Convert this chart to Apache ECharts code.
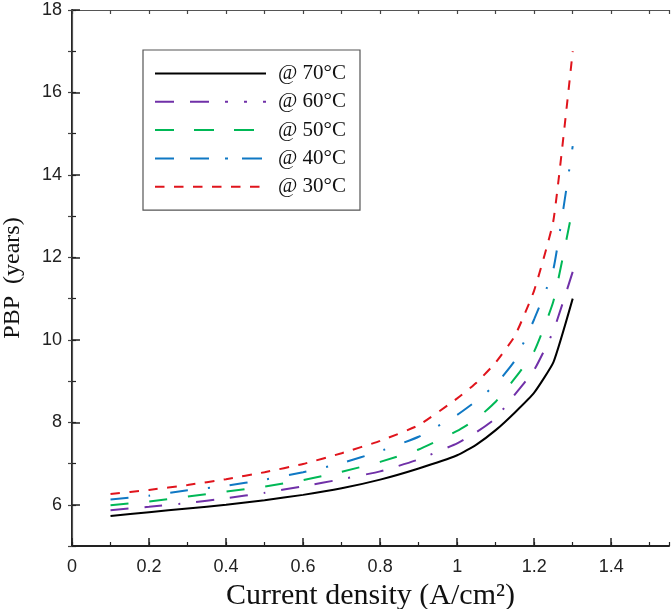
<!DOCTYPE html>
<html><head><meta charset="utf-8">
<script src="https://cdn.jsdelivr.net/npm/echarts@6/dist/echarts.min.js"></script>
<style>html,body{margin:0;padding:0;background:#fff}#c{width:672px;height:609px}</style>
</head><body><div id="c"></div>
<script>
// Current density (A/cm2)
const xValues = [0.1, 0.2, 0.3, 0.4, 0.5, 0.6, 0.7, 0.8, 0.9, 1.0, 1.05, 1.1, 1.15, 1.2, 1.25, 1.3];
// PBP (years)
const pbp70 = [5.73, 5.82, 5.91, 6.00, 6.11, 6.24, 6.40, 6.61, 6.88, 7.20, 7.46, 7.81, 8.24, 8.72, 9.46, 11.0];
const pbp60 = [5.87, 5.95, 6.04, 6.16, 6.29, 6.45, 6.62, 6.81, 7.10, 7.49, 7.76, 8.10, 8.68, 9.27, 10.22, 11.65];
const pbp50 = [5.99, 6.08, 6.20, 6.32, 6.44, 6.60, 6.80, 7.04, 7.34, 7.79, 8.08, 8.50, 9.07, 9.72, 10.94, 13.2];
const pbp40 = [6.13, 6.22, 6.35, 6.46, 6.61, 6.79, 7.01, 7.30, 7.65, 8.18, 8.52, 8.92, 9.50, 10.5, 11.72, 14.7];
const pbp30 = [6.26, 6.36, 6.48, 6.62, 6.79, 6.99, 7.25, 7.55, 7.93, 8.58, 8.96, 9.45, 10.10, 11.2, 12.9, 17.0];
const seriesNames = ['@ 70°C', '@ 60°C', '@ 50°C', '@ 40°C', '@ 30°C'];
const yTickLabels = [6, 8, 10, 12, 14, 16, 18];
const yMinorTicks = [5, 6, 7, 8, 9, 10, 11, 12, 13, 14, 15, 16, 17, 18];

const seriesValues = [pbp70, pbp60, pbp50, pbp40, pbp30];
const colors = ['#000000', '#7030a8', '#00b856', '#0f78c4', '#e0141c'];
const dashes = ['solid', [18, 16, 18, 16, 2, 16], [18, 21], [18, 20, 2, 20], [9.5, 9.5]];
const legendDashes = ['solid', [19, 16, 19, 16, 3, 16, 3, 16, 3, 60], [19, 20, 20, 20, 20, 60], [19, 16, 19, 16, 3, 14, 20, 60], [9.5, 9.5]];

const chart = echarts.init(document.getElementById('c'), null, {renderer: 'canvas'});
const axisFont = 'Liberation Sans, Arial, sans-serif';
const serif = 'Liberation Serif, Times New Roman, serif';

const series = seriesNames.map((name, k) => ({
  name: name,
  type: 'line',
  xAxisIndex: 0,
  yAxisIndex: 0,
  symbol: 'none',
  showSymbol: false,
  smooth: 0.15,
  data: xValues.map((x, i) => [x, seriesValues[k][i]]),
  lineStyle: {color: colors[k], width: 2, type: dashes[k]},
  itemStyle: {color: colors[k]},
  z: 10 - k
}));

chart.setOption({
  backgroundColor: '#ffffff',
  animation: false,
  grid: {left: 72, right: 3, top: 10, bottom: 63, containLabel: false, outerBoundsMode: 'none'},
  legend: {
    orient: 'vertical', left: 143, top: 50,
    padding: [13, 14, 13, 11],
    itemWidth: 111, itemHeight: 14, itemGap: 7.3,
    borderColor: '#555', borderWidth: 1.2, backgroundColor: '#fff',
    selectedMode: false,
    itemStyle: {opacity: 0, borderWidth: 0, color: 'transparent'},
    textStyle: {fontFamily: serif, fontSize: 21, color: '#111', padding: [0, 0, 0, 7]},
    data: seriesNames.map((n, k) => ({
      name: n,
      lineStyle: {color: colors[k], width: 2, type: legendDashes[k]}
    }))
  },
  xAxis: [
    {
      type: 'value', position: 'bottom', min: 0, max: 1.55, interval: 0.2,
      axisLine: {show: true, lineStyle: {color: '#222', width: 2}},
      axisTick: {show: true, inside: true, length: 8, lineStyle: {color: '#222', width: 1.5}},
      axisLabel: {show: true, showMaxLabel: false, margin: 12, fontFamily: axisFont, fontSize: 18, color: '#222'},
      splitLine: {show: false},
      name: 'Current density (A/cm²)', nameLocation: 'middle', nameGap: 25,
      nameTextStyle: {fontFamily: serif, fontSize: 30, color: '#111'}
    },
    {
      type: 'value', position: 'bottom', min: 0, max: 1.55, interval: 0.1,
      axisLine: {show: false},
      axisTick: {show: true, inside: true, length: 4, lineStyle: {color: '#222', width: 1.2}},
      axisLabel: {show: false}, splitLine: {show: false}
    },
    {
      type: 'value', position: 'top', min: 0, max: 1.55, interval: 0.1,
      axisLine: {show: true, lineStyle: {color: '#555', width: 1.2}},
      axisTick: {show: true, inside: true, length: 4, lineStyle: {color: '#444', width: 1.2}},
      axisLabel: {show: false}, splitLine: {show: false}
    }
  ],
  yAxis: [
    {
      type: 'value', position: 'left', min: 5, max: 18, interval: 1,
      axisLine: {show: true, lineStyle: {color: '#222', width: 2}},
      axisTick: {show: true, inside: true, length: 8, customValues: yTickLabels, lineStyle: {color: '#222', width: 1.5}},
      axisLabel: {show: true, customValues: yTickLabels, margin: 10, fontFamily: axisFont, fontSize: 18, color: '#222'},
      splitLine: {show: false},
      name: 'PBP  (years)', nameLocation: 'middle', nameGap: 47, nameRotate: 90,
      nameTextStyle: {fontFamily: serif, fontSize: 24, color: '#111'}
    },
    {
      type: 'value', position: 'left', min: 5, max: 18, interval: 1,
      axisLine: {show: false},
      axisTick: {show: true, inside: true, length: 4, customValues: yMinorTicks, lineStyle: {color: '#222', width: 1.2}},
      axisLabel: {show: false}, splitLine: {show: false}
    },
    {
      type: 'value', position: 'right', min: 5, max: 18, interval: 1,
      axisLine: {show: true, lineStyle: {color: '#555', width: 1.2}},
      axisTick: {show: true, inside: true, length: 4, lineStyle: {color: '#444', width: 1.2}},
      axisLabel: {show: false}, splitLine: {show: false}
    }
  ],
  series: series
});
</script>
</body></html>
